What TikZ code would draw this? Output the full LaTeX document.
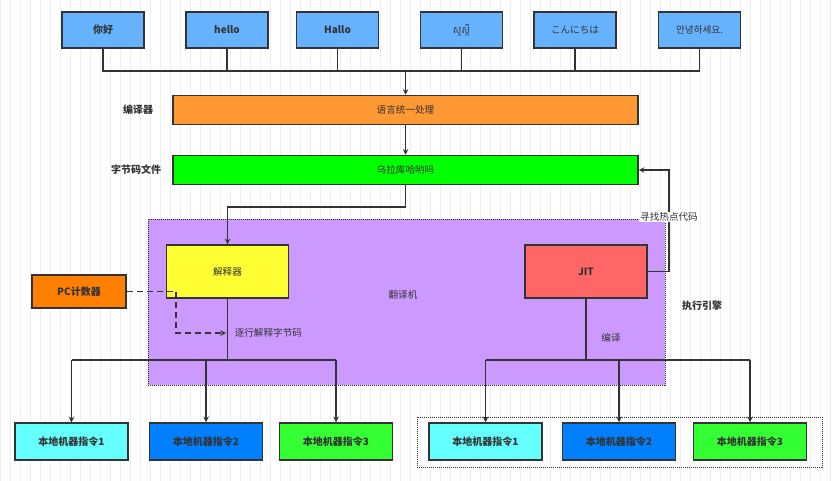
\documentclass[tikz,border=0pt]{standalone}
\usepackage{fontspec}
\setmainfont{Noto Sans CJK SC}
\newfontfamily\khmerfont[Script=Khmer]{Battambang}

\definecolor{langblue}{HTML}{66B2FF}
\definecolor{unifyorange}{HTML}{FF9933}
\definecolor{codegreen}{HTML}{00FF00}
\definecolor{interpyellow}{HTML}{FFFF33}
\definecolor{transpurple}{HTML}{CC99FF}
\definecolor{pcorange}{HTML}{FF8000}
\definecolor{jitred}{HTML}{FF6666}
\definecolor{nativecyan}{HTML}{66FFFF}
\definecolor{nativeblue}{HTML}{007FFF}
\definecolor{nativegreen}{HTML}{33FF33}
\definecolor{edgegray}{HTML}{333333}
\definecolor{gridgray}{HTML}{EEEEEE}

\tikzset{
	box/.style={draw=edgegray, line width=1.5pt, inner sep=0pt, minimum width=82pt, minimum height=36pt},
	widebar/.style={box, minimum width=465pt, minimum height=29pt},
	engine/.style={box, minimum width=122pt, minimum height=53pt},
	native/.style={box, minimum width=113pt, minimum height=37pt, font=\bfseries},
	tag/.style={inner sep=1pt}
}

\begin{document}
\begin{tikzpicture}[x=1pt, y=-1pt, ->, >=stealth, line width=1.5pt, color=edgegray, font=\fontsize{9.6}{11}\selectfont]

				\useasboundingbox (0,0) rectangle (837,481);
				\fill[white] (0,0) rectangle (837,481);
				\draw[-, gridgray, line width=0.6pt, step=10] (0,0) grid (837,481);

				% translator area
				\fill[transpurple] (148,219) rectangle (665,385);
				\draw[-, densely dotted, line width=1pt] (148,219) rectangle (665,385);
				\draw[-, densely dotted, line width=1pt] (417,417) rectangle (822,467);

				% languages
				\node [box, fill=langblue, font=\bfseries] (nihao) at (103,30) {你好};
				\node [box, fill=langblue, font=\bfseries] (hello) at (227,30) {hello};
				\node [box, fill=langblue, font=\bfseries] (hallo) at (337.5,30) {Hallo};
				\node [box, fill=langblue] (suostei) at (461.5,30) {\khmerfont សួស្តី};
				\node [box, fill=langblue] (konnichiwa) at (575,30) {こんにちは};
				\node [box, fill=langblue] (annyeong) at (699.5,30) {안녕하세요.};

				\node [widebar, fill=unifyorange] (unify) at (405.5,110) {语言统一处理};
				\node [widebar, fill=codegreen] (bytecode) at (405.5,170) {乌拉库哈哟吗};
				\node [tag, font=\bfseries] (compiler) at (138,110) {编译器};
				\node [tag, font=\bfseries] (classfile) at (136,170) {字节码文件};

				\node [engine, fill=interpyellow] (interp) at (227.5,271.5) {解释器};
				\node [engine, fill=jitred, font=\bfseries] (jit) at (586,271.5) {JIT};
				\node [box, fill=pcorange, minimum width=94pt, minimum height=33pt, font=\bfseries] (pc) at (79,291.5) {PC计数器};
				\node [tag] (translator) at (403,295) {翻译机};
				\node [tag, font=\bfseries] (execengine) at (702,306) {执行引擎};

				\node [native, fill=nativecyan] (native1) at (71.5,441.5) {本地机器指令1};
				\node [native, fill=nativeblue] (native2) at (206,441.5) {本地机器指令2};
				\node [native, fill=nativegreen] (native3) at (336,441.5) {本地机器指令3};
				\node [native, fill=nativecyan] (jitnative1) at (485.5,441.5) {本地机器指令1};
				\node [native, fill=nativeblue] (jitnative2) at (619,441.5) {本地机器指令2};
				\node [native, fill=nativegreen] (jitnative3) at (750,441.5) {本地机器指令3};

				\coordinate (bus) at (405.5,71);
				\coordinate (turn) at (405.5,207);
				\coordinate (pcbend) at (176,333);
				\coordinate (pcend) at (226,333);
				\coordinate (hot) at (669,217);
				\coordinate (outbus) at (0,360);

				% languages into one
				\draw [-] (nihao.south) |- (bus) -| (annyeong.south);
				\foreach \n in {hello, hallo, suostei, konnichiwa}
					\draw [-] (\n.south) -- (\n.south |- bus);
				\draw (bus) -- (unify.north);
				\draw (unify.south) -- (bytecode.north);
				\draw (bytecode.south) -- (turn) -| (interp.north);

				% interpreter
				\draw [dash pattern=on 6pt off 4pt] (pc.east) -| (pcbend) -- (pcend);
				\node [tag, anchor=west] (stepping) at (233,333) {逐行解释字节码};
				\draw [-] (interp.south) -- (interp.south |- outbus);
				\draw [-] (native1.north |- outbus) -- (native3.north |- outbus);
				\foreach \n in {native1, native2, native3}
					\draw (\n.north |- outbus) -- (\n.north);

				% jit
				\draw (jit.east) -| (hot) node[tag, fill=white] (hotspot) {寻找热点代码} |- (bytecode.east);
				\draw [-] (jit.south) -- (jit.south |- outbus);
				\node [tag] (jitcompile) at (611,338) {编译};
				\draw [-] (jitnative1.north |- outbus) -- (jitnative3.north |- outbus);
				\foreach \n in {jitnative1, jitnative2, jitnative3}
					\draw (\n.north |- outbus) -- (\n.north);

			\end{tikzpicture}
\end{document}
